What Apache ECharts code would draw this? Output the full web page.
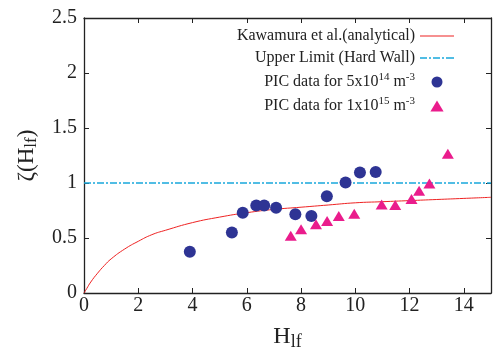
<!DOCTYPE html>
<html><head><meta charset="utf-8">
<script src="https://cdn.jsdelivr.net/npm/echarts@6/dist/echarts.min.js"></script>
<style>html,body{margin:0;padding:0;background:#fff}#c{width:494px;height:356px}</style>
</head><body><div id="c"></div>
<script>
// Analytical curve (Kawamura et al.)
const curveH = [0, 0.1, 0.25, 0.5, 0.75, 1, 1.5, 2, 2.5, 3, 4, 5, 6, 7, 8, 9, 10, 11, 12, 13, 14, 15];
const curveZ = [0, 0.04, 0.10, 0.18, 0.25, 0.31, 0.40, 0.47, 0.53, 0.57, 0.64, 0.69, 0.73, 0.76, 0.78, 0.80, 0.82, 0.83, 0.84, 0.85, 0.86, 0.87];
// Upper limit (hard wall)
const upperH = [0, 15];
const upperZ = [1, 1];
// PIC data 5x10^14 m^-3
const pic1H = [3.90, 5.45, 5.85, 6.35, 6.64, 7.08, 7.79, 8.38, 8.95, 9.64, 10.17, 10.75];
const pic1Z = [0.375, 0.55, 0.73, 0.795, 0.795, 0.775, 0.715, 0.70, 0.88, 1.005, 1.095, 1.10];
// PIC data 1x10^15 m^-3
const pic2H = [7.62, 8.00, 8.55, 8.96, 9.39, 9.96, 10.97, 11.47, 12.07, 12.35, 12.73, 13.41];
const pic2Z = [0.52, 0.58, 0.625, 0.655, 0.70, 0.72, 0.805, 0.80, 0.855, 0.93, 0.995, 1.265];
// Axis ticks
const xTicks = {min: 0, max: 15, interval: 2};
const yTicks = {min: 0, max: 2.5, interval: 0.5};

const names = ['Kawamura et al.(analytical)', 'Upper Limit (Hard Wall)', 'PIC data for 5x10^14 m^-3', 'PIC data for 1x10^15 m^-3'];
const zip = (a, b) => a.map((v, i) => [v, b[i]]);
const FONT = 'Liberation Serif';
const RED = '#ee2222', CYAN = '#18a8dc', BLUE = '#2e3494', PINK = '#ea1c8c';
const axisCommon = () => ({
  axisLine: {show: true, onZero: false, lineStyle: {color: '#222', width: 1.3}},
  axisTick: {show: true, inside: true, length: 5, lineStyle: {color: '#222', width: 1}},
  splitLine: {show: false}
});
const chart = echarts.init(document.getElementById('c'));
chart.setOption({
  animation: false,
  backgroundColor: '#fff',
  grid: {left: 84, right: 3, top: 18, bottom: 57},
  xAxis: [
    Object.assign({type: 'value', position: 'bottom', min: xTicks.min, max: xTicks.max, interval: xTicks.interval,
      axisLabel: {fontFamily: FONT, fontSize: 20, color: '#222', margin: 3, showMaxLabel: false},
      name: '{m|H}{s|lf}', nameLocation: 'middle', nameGap: 30,
      nameTextStyle: {rich: {m: {fontFamily: FONT, fontSize: 24, color: '#222'}, s: {fontFamily: FONT, fontSize: 18, color: '#222', padding: [10, 0, 0, 0]}}}
    }, axisCommon()),
    Object.assign({type: 'value', position: 'top', min: xTicks.min, max: xTicks.max, interval: xTicks.interval,
      axisLabel: {show: false}}, axisCommon())
  ],
  yAxis: [
    Object.assign({type: 'value', position: 'left', min: yTicks.min, max: yTicks.max, interval: yTicks.interval,
      axisLabel: {fontFamily: FONT, fontSize: 20, color: '#222', margin: 7},
      name: '{m|ζ(H}{s|lf}{m|)}', nameLocation: 'middle', nameGap: 44,
      nameTextStyle: {rich: {m: {fontFamily: FONT, fontSize: 23, color: '#222'}, s: {fontFamily: FONT, fontSize: 17, color: '#222', padding: [10, 0, 0, 0]}}}
    }, axisCommon()),
    Object.assign({type: 'value', position: 'right', min: yTicks.min, max: yTicks.max, interval: yTicks.interval,
      axisLabel: {show: false}}, axisCommon())
  ],
  legend: {
    orient: 'vertical', align: 'right', right: 35, top: 23, itemGap: 6,
    itemWidth: 34, itemHeight: 11, symbolKeepAspect: true,
    data: [
      {name: names[0], icon: 'path://M0,0 L34,0 L34,1.2 L0,1.2 Z'},
      {name: names[1], icon: 'path://M0,0 L7,0 L7,1.3 L0,1.3 Z M9,0 L11,0 L11,1.3 L9,1.3 Z M13,0 L20,0 L20,1.3 L13,1.3 Z M22,0 L24,0 L24,1.3 L22,1.3 Z M26,0 L34,0 L34,1.3 L26,1.3 Z'},
      {name: names[2], icon: 'circle'},
      {name: names[3], icon: 'path://M6,0 L12,10 L0,10 Z'}
    ],
    formatter: function (n) {
      if (n === names[2]) return 'PIC data for 5x10{sup|14} m{sup|-3}';
      if (n === names[3]) return 'PIC data for 1x10{sup|15} m{sup|-3}';
      return n;
    },
    textStyle: {fontFamily: FONT, fontSize: 16, color: '#222',
      rich: {sup: {fontFamily: FONT, fontSize: 11, color: '#222', padding: [0, 0, 9, 0]}}}
  },
  series: [
    {name: names[0], type: 'line', data: zip(curveH, curveZ), smooth: true, symbol: 'none',
      lineStyle: {color: RED, width: 1}, itemStyle: {color: RED}, z: 2},
    {name: names[1], type: 'line', data: zip(upperH, upperZ), symbol: 'none',
      lineStyle: {color: CYAN, width: 1.3, type: [7, 2, 2, 2]}, itemStyle: {color: CYAN}, z: 2},
    {name: names[2], type: 'scatter', data: zip(pic1H, pic1Z), symbol: 'circle', symbolSize: 12,
      itemStyle: {color: BLUE, opacity: 1}, z: 3},
    {name: names[3], type: 'scatter', data: zip(pic2H, pic2Z), symbol: 'triangle', symbolSize: [12, 10],
      itemStyle: {color: PINK, opacity: 1}, z: 3}
  ]
});
</script></body></html>
